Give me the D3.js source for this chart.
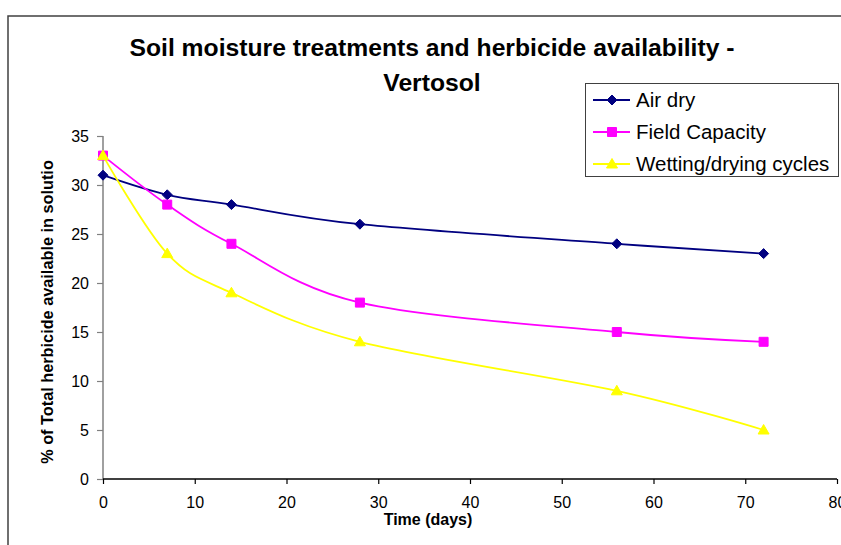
<!DOCTYPE html>
<html>
<head>
<meta charset="utf-8">
<script src="https://cdn.jsdelivr.net/npm/d3@7"></script>
<style>
  html, body { margin: 0; padding: 0; background: #fff; }
  svg { display: block; font-family: "Liberation Sans", Arial, sans-serif; }
</style>
</head>
<body>
<svg id="chart" width="841" height="545"></svg>
<script>
// Sampling days
const days = [0, 7, 14, 28, 56, 72];

// % of total herbicide available in solution, per treatment
const airDry = [31, 29, 28, 26, 24, 23];
const fieldCapacity = [33, 28, 24, 18, 15, 14];
const wettingDrying = [33, 23, 19, 14, 9, 5];

const seriesNames = ["Air dry", "Field Capacity", "Wetting/drying cycles"];
const seriesColors = ["#000080", "#FF00FF", "#FFFF00"];
const seriesMarkers = ["diamond", "square", "triangle"];

const xTicks = [0, 10, 20, 30, 40, 50, 60, 70, 80];
const yTicks = [0, 5, 10, 15, 20, 25, 30, 35];

const titleLines = ["Soil moisture treatments and herbicide availability -", "Vertosol"];
const xTitle = "Time (days)";
const yTitle = "% of Total herbicide available in solutio";

const svg = d3.select("#chart");

// chart frame
svg.append("path")
  .attr("d", "M8,560 L8,16 L860,16")
  .attr("fill", "none")
  .attr("stroke", "#404040")
  .attr("stroke-width", 1.5);

const x = d3.scaleLinear().domain([0, 80]).range([103, 837]);
const y = d3.scaleLinear().domain([0, 35]).range([479, 136]);

// title
const title = svg.append("text")
  .attr("text-anchor", "middle")
  .attr("font-weight", "bold")
  .attr("font-size", 24.7)
  .attr("fill", "#000");
titleLines.forEach((t, i) => {
  title.append("tspan").attr("x", 432).attr("y", 56 + i * 35).text(t);
});

// y axis
const yAxis = svg.append("g")
  .attr("transform", `translate(${x(0)},0)`)
  .call(d3.axisLeft(y).tickValues(yTicks).tickSize(6).tickPadding(8).tickFormat(d3.format("d")));
yAxis.select(".domain").attr("stroke", "#808080").attr("stroke-width", 1.5).attr("d", `M0,${y(35)}V${y(0)}`);
yAxis.selectAll(".tick line").attr("stroke", "#808080").attr("stroke-width", 1.2);
yAxis.selectAll(".tick text").attr("font-size", 16).attr("fill", "#000")
  .attr("font-family", "Liberation Sans, Arial, sans-serif");

// x axis
const xAxis = svg.append("g")
  .attr("transform", `translate(0,${y(0)})`)
  .call(d3.axisBottom(x).tickValues(xTicks).tickSize(5).tickPadding(13).tickFormat(d3.format("d")));
xAxis.select(".domain").attr("stroke", "#000").attr("stroke-width", 1.5).attr("d", `M${x(0)},0H${x(80)}`);
xAxis.selectAll(".tick line").attr("stroke", "#000").attr("stroke-width", 1.2);
xAxis.selectAll(".tick text").attr("font-size", 16).attr("fill", "#000")
  .attr("font-family", "Liberation Sans, Arial, sans-serif");

// axis titles
svg.append("text")
  .attr("x", 428).attr("y", 525)
  .attr("text-anchor", "middle")
  .attr("font-weight", "bold").attr("font-size", 16)
  .text(xTitle);

svg.append("text")
  .attr("transform", "translate(53,312) rotate(-90)")
  .attr("text-anchor", "middle")
  .attr("font-weight", "bold").attr("font-size", 16.3)
  .text(yTitle);

// marker shapes
function markerPath(kind) {
  if (kind === "diamond") return "M0,-5L5,0L0,5L-5,0Z";
  if (kind === "square") return "M-4.5,-4.5H4.5V4.5H-4.5Z";
  return "M0,-5.5L5.5,4L-5.5,4Z";
}

const line = d3.line()
  .x(d => x(d[0]))
  .y(d => y(d[1]))
  .curve(d3.curveCardinal.tension(0));

const seriesValues = [airDry, fieldCapacity, wettingDrying];

seriesValues.forEach((vals, i) => {
  const pts = days.map((d, j) => [d, vals[j]]);
  const g = svg.append("g");
  g.append("path")
    .datum(pts)
    .attr("d", line)
    .attr("fill", "none")
    .attr("stroke", seriesColors[i])
    .attr("stroke-width", 1.8);
  g.selectAll("path.m")
    .data(pts)
    .enter().append("path")
    .attr("class", "m")
    .attr("transform", d => `translate(${x(d[0])},${y(d[1])})`)
    .attr("d", markerPath(seriesMarkers[i]))
    .attr("fill", seriesColors[i])
    .attr("stroke", seriesColors[i])
    .attr("stroke-width", 1);
});

// legend
const legend = svg.append("g");
legend.append("rect")
  .attr("x", 585.5).attr("y", 83.5)
  .attr("width", 253).attr("height", 93)
  .attr("fill", "#fff")
  .attr("stroke", "#404040")
  .attr("stroke-width", 1);

seriesNames.forEach((name, i) => {
  const cy = 100 + i * 32;
  legend.append("line")
    .attr("x1", 593).attr("x2", 630)
    .attr("y1", cy).attr("y2", cy)
    .attr("stroke", seriesColors[i]).attr("stroke-width", 1.8);
  legend.append("path")
    .attr("transform", `translate(612,${cy})`)
    .attr("d", markerPath(seriesMarkers[i]))
    .attr("fill", seriesColors[i])
    .attr("stroke", seriesColors[i]);
  legend.append("text")
    .attr("x", 636).attr("y", cy + 7)
    .attr("font-size", 20.5)
    .attr("fill", "#000")
    .text(name);
});
</script>
</body>
</html>
